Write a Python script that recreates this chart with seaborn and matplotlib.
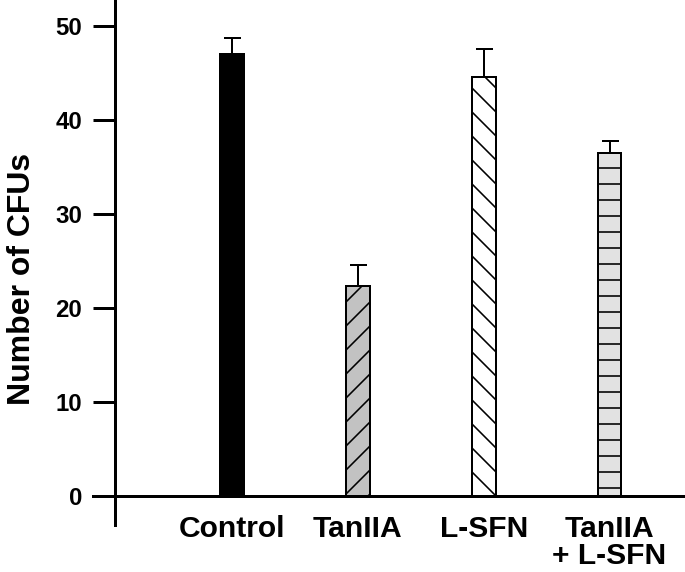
import matplotlib
matplotlib.use("Agg")
import matplotlib.pyplot as plt
import numpy as np
import pandas as pd
import seaborn as sns

# values
groups = ["Control", "TanIIA", "L-SFN", "TanIIA\n+ L-SFN"]
cfu_mean = [47.1, 22.4, 44.6, 36.5]
cfu_err = [1.7, 2.2, 3.0, 1.3]
fill_colors = ["#000000", "#c2c2c2", "#ffffff", "#e2e2e2"]
hatches = ["", "////", "\\\\\\\\", "---"]
y_ticks = [0, 10, 20, 30, 40, 50]

# high dpi so the default hatch density lands near the reference spacing
DPI = 288
PX = 72 / DPI  # one pixel in points

sns.set_style("ticks", rc={
    "axes.edgecolor": "black", "text.color": "black",
    "xtick.color": "black", "ytick.color": "black",
    "axes.labelcolor": "black",
})
plt.rcParams["font.family"] = ["Liberation Sans", "DejaVu Sans"]
plt.rcParams["font.weight"] = "bold"
plt.rcParams["hatch.linewidth"] = 1.6 * PX

df = pd.DataFrame({"group": groups, "cfu": cfu_mean})

fig = plt.figure(figsize=(685 / DPI, 572 / DPI), dpi=DPI)
ax = fig.add_axes([115 / 685, 47 / 572, 1 - 115 / 685, 1 - 47 / 572])

sns.barplot(
    data=df, x="group", y="cfu", hue="group", palette=fill_colors,
    width=0.19, edgecolor="black", linewidth=2 * PX, legend=False,
    ax=ax, zorder=3, saturation=1,
)
for patch, h in zip(ax.patches, hatches):
    patch.set_hatch(h)

# upward-only error bars
ax.errorbar(
    np.arange(len(groups)), cfu_mean,
    yerr=[np.zeros(len(cfu_err)), cfu_err],
    fmt="none", ecolor="black", elinewidth=2 * PX,
    capsize=8.5 * PX, capthick=2 * PX, zorder=2,
)

ax.set_ylim(-3.1, 52.8)
ax.set_xlim(-0.93, 3.60)
ax.set_yticks(y_ticks)
ax.set_xlabel("")
ax.set_ylabel("Number of CFUs", fontsize=32 * PX, fontweight="bold")
ax.yaxis.set_label_coords(-0.137, 0.469)

for side in ["top", "right"]:
    ax.spines[side].set_visible(False)
ax.spines["left"].set_linewidth(3 * PX)
ax.spines["bottom"].set_linewidth(3 * PX)
ax.spines["bottom"].set_position(("data", 0))
# extend x-axis line left to meet the 0 tick
ax.spines["bottom"].set_bounds(-0.93 - 22 / 125.8, 3.60)
ax.spines["bottom"].set_clip_on(False)

ax.tick_params(axis="y", length=22 * PX, width=3 * PX, pad=11 * PX,
               labelsize=24 * PX, colors="black")
ax.tick_params(axis="x", length=0, pad=19 * PX, labelsize=30 * PX,
               colors="black")
for lab in ax.get_xticklabels() + ax.get_yticklabels():
    lab.set_fontweight("bold")
    lab.set_linespacing(0.95)

fig.savefig("out.png", dpi=DPI)
